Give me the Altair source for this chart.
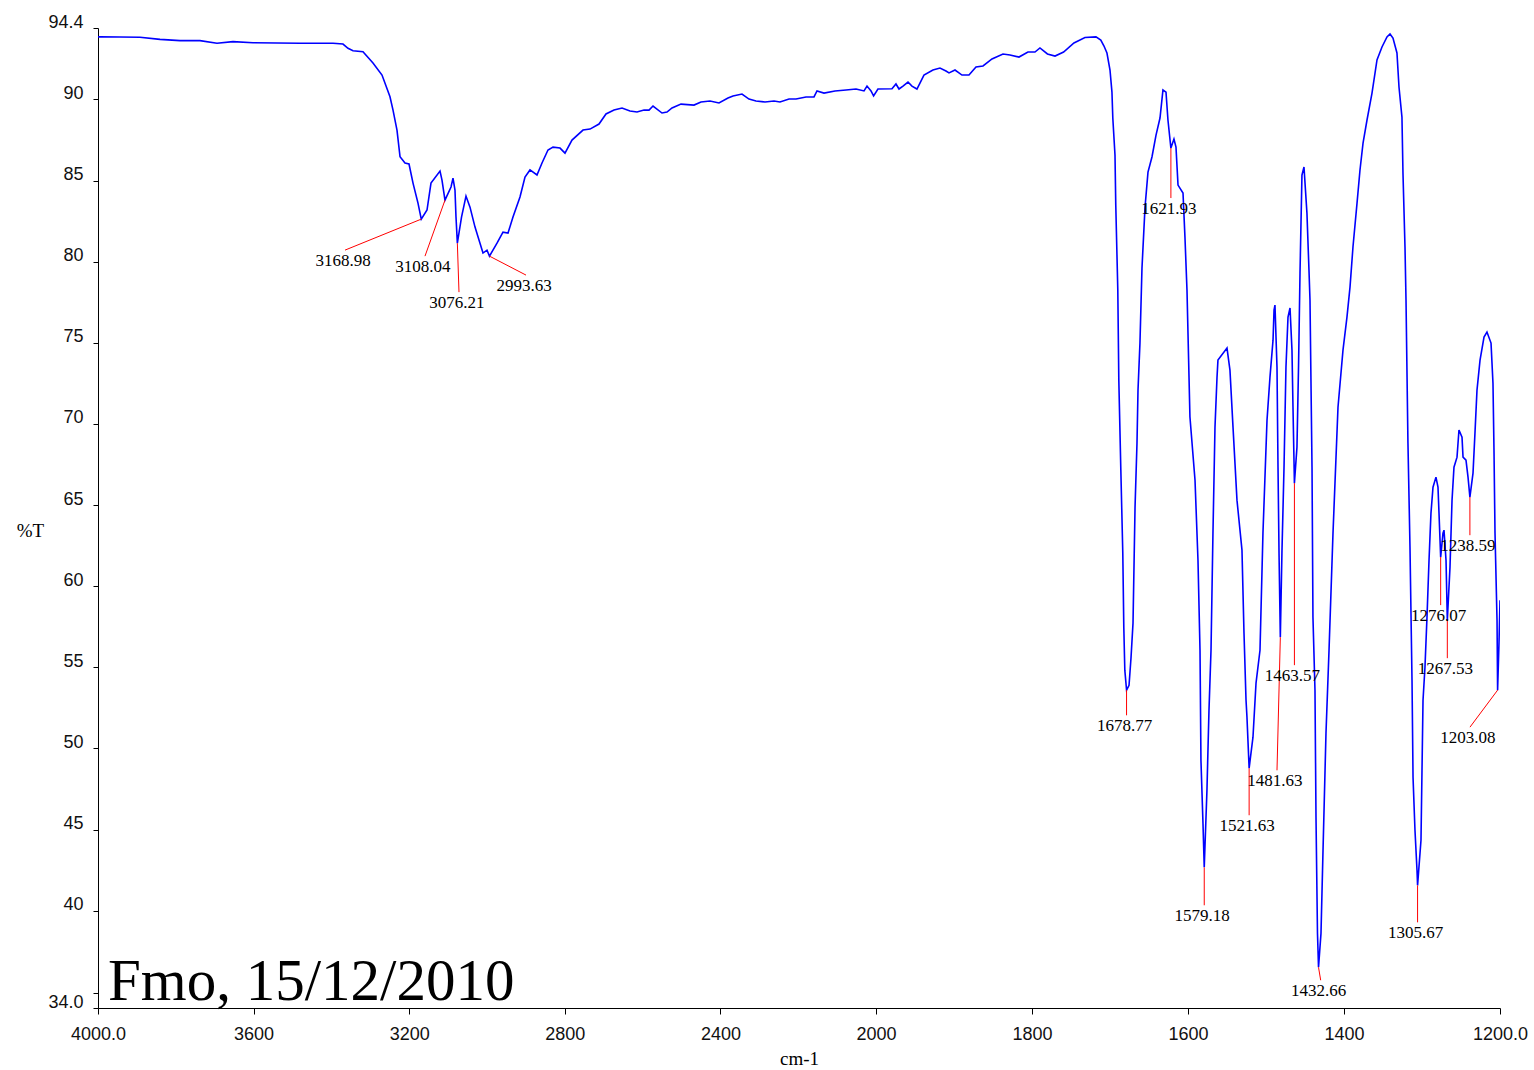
import altair as alt
import pandas as pd

# ---------------- data ----------------
wavenumber = [
    4000, 3995, 3892.0, 3840.6, 3789.2, 3737.8, 3694.1, 3653.0, 3601.5, 3480.7,
    3395.9, 3370.2, 3357.3, 3344.5, 3318.8, 3293.1, 3269.9, 3249.4, 3241.6, 3231.4,
    3223.6, 3210.8, 3200.5, 3190.2, 3177.4, 3168.98, 3154.2, 3144.0, 3120.8, 3115.7,
    3108.04, 3092.5, 3087.4, 3082.3, 3079.7, 3076.21, 3065.5, 3054.0, 3043.7, 3030.8,
    3018.0, 3010.3, 3000.0, 2993.63, 2974.3, 2958.9, 2946.0, 2933.2, 2915.2, 2902.3,
    2889.5, 2871.5, 2858.6, 2843.2, 2830.3, 2812.3, 2799.5, 2781.5, 2753.2, 2735.2,
    2712.1, 2694.1, 2673.5, 2652.9, 2632.4, 2614.4, 2596.4, 2583.5, 2573.2, 2550.1,
    2537.3, 2524.4, 2501.3, 2467.9, 2449.9, 2426.7, 2403.6, 2380.5, 2367.6, 2344.5,
    2326.5, 2308.5, 2285.4, 2262.2, 2246.8, 2223.6, 2205.6, 2179.9, 2159.4, 2151.7,
    2133.7, 2105.4, 2077.1, 2051.4, 2030.8, 2023.1, 2012.8, 2006.2, 1997.5, 1979.5,
    1974.4, 1970.5, 1965.4, 1959.0, 1953.9, 1947.5, 1938.5, 1927.0, 1918.0, 1910.3,
    1906.4, 1898.7, 1889.8, 1880.8, 1871.8, 1862.8, 1851.3, 1837.2, 1828.2, 1816.7,
    1805.2, 1796.2, 1789.8, 1780.2, 1770.5, 1759.5, 1746.2, 1732.1, 1718.0, 1711.8,
    1707.7, 1703.9, 1700.0, 1697.5, 1696.4, 1693.6, 1692.6, 1690.0, 1688.7, 1686.1,
    1683.6, 1682.3, 1681.0, 1678.77, 1675.6, 1673.1, 1670.5, 1667.9, 1665.4, 1664.1,
    1661.6, 1659.0, 1655.1, 1651.3, 1646.2, 1641.0, 1635.9, 1632.1, 1628.2, 1625.7,
    1621.93, 1618.0, 1615.4, 1612.8, 1606.4, 1603.9, 1601.3, 1597.5, 1591.0, 1587.2,
    1584.6, 1583.4, 1580.8, 1579.18, 1575.7, 1573.1, 1570.5, 1568.0, 1565.4, 1562.8,
    1561.6, 1550.0, 1546.2, 1542.3, 1537.2, 1530.8, 1528.2, 1525.6, 1524.4, 1521.63,
    1516.7, 1512.8, 1507.7, 1503.9, 1498.7, 1494.9, 1491.0, 1489.7, 1488.5, 1485.9,
    1484.6, 1483.3, 1481.63, 1479.5, 1476.9, 1474.4, 1471.8, 1469.2, 1466.7, 1465.4,
    1463.57, 1460.3, 1458.3, 1456.4, 1453.9, 1451.3, 1447.5, 1444.9, 1443.6, 1441.0,
    1439.8, 1437.2, 1435.9, 1434.0, 1432.66, 1429.5, 1426.9, 1423.1, 1419.2, 1414.1,
    1407.7, 1401.3, 1396.2, 1392.3, 1388.5, 1383.3, 1379.5, 1375.6, 1370.5, 1364.1,
    1357.7, 1351.3, 1344.9, 1341.0, 1337.2, 1332.1, 1329.5, 1325.7, 1324.4, 1321.8,
    1320.5, 1318.0, 1315.4, 1312.8, 1311.5, 1309.0, 1306.4, 1305.67, 1301.3, 1300.0,
    1298.7, 1296.2, 1293.6, 1291.0, 1288.5, 1285.9, 1282.1, 1279.5, 1278.2, 1276.07,
    1273.1, 1271.8, 1269.2, 1267.53, 1264.1, 1261.5, 1259.0, 1255.1, 1252.6, 1248.7,
    1247.4, 1243.6, 1241.0, 1238.59, 1234.6, 1232.1, 1229.5, 1225.6, 1220.5, 1216.7,
    1211.5, 1209.0, 1207.7, 1206.4, 1203.8, 1203.08, 1201.3, 1200.0,
]
transmittance = [
    93.85, 93.86, 93.83, 93.70, 93.62, 93.62, 93.46, 93.56, 93.49, 93.46,
    93.46, 93.41, 93.15, 93.00, 92.94, 92.24, 91.50, 90.16, 89.34, 88.11,
    86.47, 86.08, 86.02, 84.84, 83.61, 82.62, 83.18, 84.84, 85.58, 85.03,
    83.79, 84.60, 85.15, 84.41, 82.75, 81.14, 82.75, 84.04, 83.36, 82.13,
    81.14, 80.53, 80.71, 80.34, 81.14, 81.82, 81.76, 82.75, 83.98, 85.21,
    85.65, 85.34, 86.08, 86.88, 87.06, 87.00, 86.69, 87.49, 88.11, 88.17,
    88.48, 89.10, 89.34, 89.47, 89.28, 89.22, 89.34, 89.34, 89.59, 89.16,
    89.22, 89.47, 89.71, 89.65, 89.84, 89.90, 89.78, 90.08, 90.21, 90.33,
    90.02, 89.90, 89.84, 89.90, 89.84, 90.02, 90.02, 90.15, 90.15, 90.52,
    90.39, 90.52, 90.58, 90.64, 90.52, 90.82, 90.52, 90.21, 90.64, 90.66,
    90.95, 90.64, 90.82, 91.07, 90.82, 90.64, 91.50, 91.81, 91.93, 91.75,
    91.63, 91.81, 91.50, 91.50, 92.00, 92.06, 92.49, 92.80, 92.74, 92.61,
    92.92, 92.92, 93.17, 92.80, 92.67, 92.92, 93.48, 93.81, 93.85, 93.66,
    93.29, 92.86, 91.81, 90.45, 88.85, 86.57, 83.49, 78.25, 72.70, 67.15,
    62.03, 57.47, 54.82, 53.59, 53.89, 55.56, 57.72, 64.87, 68.81, 72.08,
    74.98, 79.60, 83.36, 85.52, 86.45, 87.80, 88.85, 90.58, 90.45, 88.73,
    87.00, 87.56, 87.06, 84.72, 84.23, 81.51, 78.25, 70.42, 66.53, 61.60,
    56.05, 49.27, 45.39, 42.67, 47.42, 52.35, 56.05, 63.27, 69.80, 72.88,
    73.93, 74.67, 73.31, 69.80, 65.30, 62.22, 57.10, 52.97, 51.92, 48.78,
    50.69, 54.02, 56.05, 63.27, 70.23, 72.88, 75.16, 77.01, 77.32, 73.50,
    67.33, 62.03, 56.85, 62.22, 67.33, 73.50, 76.58, 77.14, 74.55, 71.03,
    66.35, 68.57, 73.50, 79.30, 85.34, 85.83, 82.99, 79.48, 77.63, 67.33,
    58.09, 53.59, 45.76, 38.60, 36.51, 38.60, 43.72, 50.94, 56.05, 63.27,
    71.03, 74.55, 76.58, 78.43, 80.90, 83.61, 85.65, 87.31, 88.73, 90.39,
    92.43, 93.23, 93.85, 94.03, 93.78, 92.86, 90.76, 88.91, 85.46, 80.90,
    77.63, 68.81, 62.40, 54.20, 48.22, 44.95, 42.49, 41.56, 44.34, 48.65,
    52.97, 55.00, 58.09, 61.60, 64.50, 66.10, 66.72, 66.10, 64.50, 61.79,
    63.27, 63.45, 61.60, 57.90, 61.17, 65.30, 67.33, 67.95, 69.62, 69.18,
    67.95, 67.77, 66.72, 65.49, 66.97, 69.43, 72.08, 73.93, 75.35, 75.66,
    74.98, 72.51, 68.38, 63.27, 57.90, 53.59, 56.48, 59.13,
]

# labelled peaks: peak position, and the far end of each red leader line
peak_wn = [3168.98, 3108.04, 3076.21, 2993.63, 1678.77, 1621.93, 1579.18, 1521.63,
           1481.63, 1463.57, 1432.66, 1305.67, 1276.07, 1267.53, 1238.59, 1203.08]
peak_T = [82.62, 83.79, 81.14, 80.34, 53.59, 87.00, 42.67, 48.78,
          56.85, 66.35, 36.51, 41.56, 61.79, 57.90, 65.49, 53.59]
label_wn = [3365.0, 3159.4, 3071.98, 2899.7, 1678.77, 1621.93, 1579.18, 1521.63,
            1485.9, 1463.57, 1429.9, 1305.67, 1276.07, 1267.53, 1238.59, 1238.5]
label_T = [80.71, 80.34, 78.12, 79.17, 52.04, 83.92, 40.33, 45.88,
           48.65, 55.13, 35.71, 39.28, 58.83, 55.56, 63.14, 51.31]

x_ticks = [4000, 3600, 3200, 2800, 2400, 2000, 1800, 1600, 1400, 1200]
y_ticks = [34.0, 34.91, 40, 45, 50, 55, 60, 65, 70, 75, 80, 85, 90, 94.4]
stamp = ["Fmo, 15/12/2010"]

# ---------------- tables ----------------
spec = pd.DataFrame({"wn": wavenumber, "T": transmittance})
peaks = pd.DataFrame({
    "wn": peak_wn, "T": peak_T, "lwn": label_wn, "lT": label_T,
    "label": [f"{v:.2f}" for v in peak_wn],
})
stamp_df = pd.DataFrame({"t": stamp})

# piecewise wavenumber axis (4000-2000 compressed by half)
x_scale = alt.Scale(domain=[4000, 2000, 1200], range=[0, 778, 1402], zero=False, nice=False)
y_scale = alt.Scale(domain=[34.0, 94.4], zero=False, nice=False)

tick_font = "Liberation Sans"
serif = "Liberation Serif"

x_axis = alt.Axis(
    values=x_ticks, title="cm-1", grid=False,
    labelExpr="datum.value == 4000 ? '4000.0' : datum.value == 1200 ? '1200.0' : format(datum.value, 'd')",
    labelFont=tick_font, labelFontSize=18, labelColor="#111111",
    labelBaseline="middle", labelPadding=20, labelFlush=False, labelOverlap=False, labelBound=False,
    tickSize=6, tickColor="black", domainColor="black", tickWidth=1, domainWidth=1,
    titleFont=serif, titleFontSize=19, titleFontWeight="normal", titleColor="black",
    titleY=50, titleBaseline="middle",
)
y_axis = alt.Axis(
    values=y_ticks, title="%T", grid=False,
    labelExpr="datum.value == 34 ? '34.0' : datum.value == 94.4 ? '94.4' : datum.value < 35 ? '' : format(datum.value, 'd')",
    labelFont=tick_font, labelFontSize=18, labelColor="#111111",
    labelBaseline="middle", labelOffset=-6, labelPadding=10, labelOverlap=False, labelBound=False, labelFlush=False,
    tickSize=5, tickColor="black", domainColor="black", tickWidth=1, domainWidth=1,
    titleFont=serif, titleFontSize=19, titleFontWeight="normal", titleColor="black",
    titleAngle=0, titleX=-68, titleY=502, titleAlign="center", titleBaseline="middle",
)

line = alt.Chart(spec).mark_line(color="#0000ff", strokeWidth=1.6, clip=True).encode(
    x=alt.X("wn:Q", scale=x_scale, axis=x_axis, title="cm-1"),
    y=alt.Y("T:Q", scale=y_scale, axis=y_axis, title="%T"),
)

leaders = alt.Chart(peaks).mark_rule(color="#ff0000", strokeWidth=1).encode(
    x=alt.X("wn:Q", title="cm-1"),
    y=alt.Y("T:Q", title="%T"),
    x2="lwn:Q",
    y2="lT:Q",
)

labels = alt.Chart(peaks).mark_text(
    font=serif, fontSize=17, color="black", align="center", baseline="middle", dx=-2, dy=11,
).encode(
    x=alt.X("lwn:Q", title="cm-1"),
    y=alt.Y("lT:Q", title="%T"),
    text="label:N",
)

stamp_text = alt.Chart(stamp_df).mark_text(
    font=serif, fontSize=59, color="black", align="left", baseline="alphabetic",
).encode(
    x=alt.value(10), y=alt.value(972), text="t:N",
)

chart = alt.layer(line, leaders, labels, stamp_text).properties(
    width=1402, height=980,
    padding={"left": 98, "top": 28, "right": 34, "bottom": 62},
    autosize=alt.AutoSizeParams(type="none"),
    background="white",
).configure_view(stroke=None)

chart.save("out.html", embed_options={"renderer": "svg", "actions": False})
